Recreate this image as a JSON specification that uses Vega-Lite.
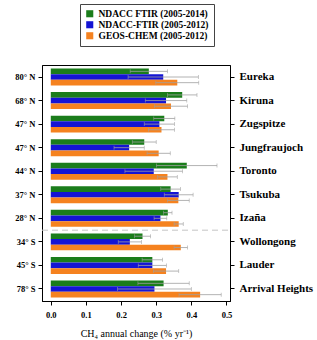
{
  "$schema": "https://vega.github.io/schema/vega-lite/v6.json",
  "width": 188,
  "height": 236,
  "autosize": "none",
  "padding": {"left": 42, "top": 65, "right": 87, "bottom": 39},
  "config": {
    "font": "Liberation Serif",
    "view": {"stroke": "#000000", "strokeWidth": 1},
    "axis": {
      "grid": false,
      "domainColor": "#000000",
      "tickColor": "#000000",
      "tickSize": 4,
      "labelColor": "#000000",
      "labelFont": "Liberation Serif",
      "labelFontWeight": "bold",
      "labelOverlap": false,
      "titleFont": "Liberation Serif",
      "titleColor": "#000000"
    },
    "tick": {"thickness": 0.8}
  },
  "datasets": {
    "trends": [
      {"site": "80° N|Eureka", "series": "NDACC FTIR (2005-2014)", "value": 0.279, "lo": 0.226, "hi": 0.332},
      {"site": "80° N|Eureka", "series": "NDACC-FTIR (2005-2012)", "value": 0.320, "lo": 0.220, "hi": 0.420},
      {"site": "80° N|Eureka", "series": "GEOS-CHEM (2005-2012)", "value": 0.360, "lo": 0.299, "hi": 0.421},
      {"site": "68° N|Kiruna", "series": "NDACC FTIR (2005-2014)", "value": 0.374, "lo": 0.332, "hi": 0.416},
      {"site": "68° N|Kiruna", "series": "NDACC-FTIR (2005-2012)", "value": 0.328, "lo": 0.269, "hi": 0.387},
      {"site": "68° N|Kiruna", "series": "GEOS-CHEM (2005-2012)", "value": 0.342, "lo": 0.295, "hi": 0.389},
      {"site": "47° N|Zugspitze", "series": "NDACC FTIR (2005-2014)", "value": 0.323, "lo": 0.293, "hi": 0.353},
      {"site": "47° N|Zugspitze", "series": "NDACC-FTIR (2005-2012)", "value": 0.309, "lo": 0.266, "hi": 0.352},
      {"site": "47° N|Zugspitze", "series": "GEOS-CHEM (2005-2012)", "value": 0.315, "lo": 0.278, "hi": 0.352},
      {"site": "47° N|Jungfraujoch", "series": "NDACC FTIR (2005-2014)", "value": 0.266, "lo": 0.232, "hi": 0.300},
      {"site": "47° N|Jungfraujoch", "series": "NDACC-FTIR (2005-2012)", "value": 0.223, "lo": 0.180, "hi": 0.266},
      {"site": "47° N|Jungfraujoch", "series": "GEOS-CHEM (2005-2012)", "value": 0.307, "lo": 0.274, "hi": 0.340},
      {"site": "44° N|Toronto", "series": "NDACC FTIR (2005-2014)", "value": 0.387, "lo": 0.301, "hi": 0.473},
      {"site": "44° N|Toronto", "series": "NDACC-FTIR (2005-2012)", "value": 0.293, "lo": 0.211, "hi": 0.375},
      {"site": "44° N|Toronto", "series": "GEOS-CHEM (2005-2012)", "value": 0.332, "lo": 0.304, "hi": 0.360},
      {"site": "37° N|Tsukuba", "series": "NDACC FTIR (2005-2014)", "value": 0.341, "lo": 0.313, "hi": 0.369},
      {"site": "37° N|Tsukuba", "series": "NDACC-FTIR (2005-2012)", "value": 0.364, "lo": 0.323, "hi": 0.405},
      {"site": "37° N|Tsukuba", "series": "GEOS-CHEM (2005-2012)", "value": 0.363, "lo": 0.332, "hi": 0.394},
      {"site": "28° N|Izaña", "series": "NDACC FTIR (2005-2014)", "value": 0.333, "lo": 0.321, "hi": 0.345},
      {"site": "28° N|Izaña", "series": "NDACC-FTIR (2005-2012)", "value": 0.312, "lo": 0.294, "hi": 0.330},
      {"site": "28° N|Izaña", "series": "GEOS-CHEM (2005-2012)", "value": 0.364, "lo": 0.351, "hi": 0.377},
      {"site": "34° S|Wollongong", "series": "NDACC FTIR (2005-2014)", "value": 0.261, "lo": 0.238, "hi": 0.284},
      {"site": "34° S|Wollongong", "series": "NDACC-FTIR (2005-2012)", "value": 0.225, "lo": 0.192, "hi": 0.258},
      {"site": "34° S|Wollongong", "series": "GEOS-CHEM (2005-2012)", "value": 0.370, "lo": 0.351, "hi": 0.389},
      {"site": "45° S|Lauder", "series": "NDACC FTIR (2005-2014)", "value": 0.289, "lo": 0.260, "hi": 0.318},
      {"site": "45° S|Lauder", "series": "NDACC-FTIR (2005-2012)", "value": 0.289, "lo": 0.249, "hi": 0.329},
      {"site": "45° S|Lauder", "series": "GEOS-CHEM (2005-2012)", "value": 0.328, "lo": 0.292, "hi": 0.364},
      {"site": "78° S|Arrival Heights", "series": "NDACC FTIR (2005-2014)", "value": 0.321, "lo": 0.248, "hi": 0.394},
      {"site": "78° S|Arrival Heights", "series": "NDACC-FTIR (2005-2012)", "value": 0.295, "lo": 0.190, "hi": 0.400},
      {"site": "78° S|Arrival Heights", "series": "GEOS-CHEM (2005-2012)", "value": 0.425, "lo": 0.365, "hi": 0.485}
    ],
    "divider": [{"site": "34° S|Wollongong"}]
  },
  "resolve": {"axis": {"y": "independent"}},
  "layer": [
    {
      "data": {"name": "divider"},
      "mark": {"type": "rule", "color": "#c4c4c4", "strokeWidth": 1, "strokeDash": [6, 4], "clip": true},
      "encoding": {
        "y": {"field": "site", "type": "nominal", "bandPosition": -0.19, "axis": null,
              "sort": ["80° N|Eureka", "68° N|Kiruna", "47° N|Zugspitze", "47° N|Jungfraujoch", "44° N|Toronto", "37° N|Tsukuba", "28° N|Izaña", "34° S|Wollongong", "45° S|Lauder", "78° S|Arrival Heights"]},
        "x": {"datum": -0.025, "type": "quantitative",
              "axis": {"values": [0, 0.1, 0.2, 0.3, 0.4, 0.5], "format": ".1f", "labelFontSize": 8.5, "labelPadding": 5,
                       "title": "CH₄ annual change (% yr⁻¹)", "titleFontSize": 10, "titleFontWeight": "normal", "titlePadding": 10}},
        "x2": {"datum": 0.51}
      }
    },
    {
      "data": {"name": "trends"},
      "mark": {"type": "bar"},
      "encoding": {
        "y": {
          "field": "site", "type": "nominal",
          "sort": ["80° N|Eureka", "68° N|Kiruna", "47° N|Zugspitze", "47° N|Jungfraujoch", "44° N|Toronto", "37° N|Tsukuba", "28° N|Izaña", "34° S|Wollongong", "45° S|Lauder", "78° S|Arrival Heights"],
          "scale": {"paddingInner": 0.28, "paddingOuter": 0.15},
          "axis": {"orient": "left", "title": null, "labelExpr": "split(datum.value, '|')[0]", "labelFontSize": 8.5, "labelPadding": 3}
        },
        "yOffset": {"field": "series", "type": "nominal", "sort": ["NDACC FTIR (2005-2014)", "NDACC-FTIR (2005-2012)", "GEOS-CHEM (2005-2012)"], "scale": {"paddingInner": 0, "paddingOuter": 0}},
        "x": {
          "field": "value", "type": "quantitative",
          "scale": {"domain": [-0.025, 0.51], "nice": false, "zero": false},
          "axis": {"values": [0, 0.1, 0.2, 0.3, 0.4, 0.5], "format": ".1f", "labelFontSize": 8.5, "labelPadding": 5,
                   "title": "CH₄ annual change (% yr⁻¹)", "titleFontSize": 10, "titleFontWeight": "normal", "titlePadding": 10}
        },
        "x2": {"datum": 0},
        "fill": {
          "field": "series", "type": "nominal",
          "sort": ["NDACC FTIR (2005-2014)", "NDACC-FTIR (2005-2012)", "GEOS-CHEM (2005-2012)"],
          "scale": {"domain": ["NDACC FTIR (2005-2014)", "NDACC-FTIR (2005-2012)", "GEOS-CHEM (2005-2012)"], "range": ["#1b7d1b", "#1414d4", "#f5821f"]},
          "legend": {
            "orient": "none", "legendX": 38, "legendY": -61, "title": null,
            "strokeColor": "#444444", "fillColor": "#ffffff", "padding": 5,
            "symbolType": "square", "symbolSize": 50, "symbolStrokeWidth": 0,
            "labelFont": "Liberation Serif", "labelFontWeight": "bold", "labelFontSize": 9.5, "labelColor": "#000000",
            "rowPadding": 0
          }
        }
      }
    },
    {
      "data": {"name": "trends"},
      "mark": {"type": "rule", "color": "#a0a0a0", "strokeWidth": 0.8},
      "encoding": {
        "y": {
          "field": "site", "type": "nominal",
          "sort": ["80° N|Eureka", "68° N|Kiruna", "47° N|Zugspitze", "47° N|Jungfraujoch", "44° N|Toronto", "37° N|Tsukuba", "28° N|Izaña", "34° S|Wollongong", "45° S|Lauder", "78° S|Arrival Heights"],
          "axis": {"orient": "right", "title": null, "labelExpr": "split(datum.value, '|')[1]", "labelFontSize": 11, "labelPadding": 5}
        },
        "yOffset": {"field": "series", "type": "nominal", "sort": ["NDACC FTIR (2005-2014)", "NDACC-FTIR (2005-2012)", "GEOS-CHEM (2005-2012)"]},
        "x": {"field": "lo", "type": "quantitative",
              "axis": {"values": [0, 0.1, 0.2, 0.3, 0.4, 0.5], "format": ".1f", "labelFontSize": 8.5, "labelPadding": 5,
                       "title": "CH₄ annual change (% yr⁻¹)", "titleFontSize": 10, "titleFontWeight": "normal", "titlePadding": 10}},
        "x2": {"field": "hi"}
      }
    },
    {
      "data": {"name": "trends"},
      "mark": {"type": "tick", "color": "#a0a0a0", "size": 4},
      "encoding": {
        "y": {"field": "site", "type": "nominal", "axis": null,
              "sort": ["80° N|Eureka", "68° N|Kiruna", "47° N|Zugspitze", "47° N|Jungfraujoch", "44° N|Toronto", "37° N|Tsukuba", "28° N|Izaña", "34° S|Wollongong", "45° S|Lauder", "78° S|Arrival Heights"]},
        "yOffset": {"field": "series", "type": "nominal", "sort": ["NDACC FTIR (2005-2014)", "NDACC-FTIR (2005-2012)", "GEOS-CHEM (2005-2012)"]},
        "x": {"field": "lo", "type": "quantitative",
              "axis": {"values": [0, 0.1, 0.2, 0.3, 0.4, 0.5], "format": ".1f", "labelFontSize": 8.5, "labelPadding": 5,
                       "title": "CH₄ annual change (% yr⁻¹)", "titleFontSize": 10, "titleFontWeight": "normal", "titlePadding": 10}}
      }
    },
    {
      "data": {"name": "trends"},
      "mark": {"type": "tick", "color": "#a0a0a0", "size": 4},
      "encoding": {
        "y": {"field": "site", "type": "nominal", "axis": null,
              "sort": ["80° N|Eureka", "68° N|Kiruna", "47° N|Zugspitze", "47° N|Jungfraujoch", "44° N|Toronto", "37° N|Tsukuba", "28° N|Izaña", "34° S|Wollongong", "45° S|Lauder", "78° S|Arrival Heights"]},
        "yOffset": {"field": "series", "type": "nominal", "sort": ["NDACC FTIR (2005-2014)", "NDACC-FTIR (2005-2012)", "GEOS-CHEM (2005-2012)"]},
        "x": {"field": "hi", "type": "quantitative",
              "axis": {"values": [0, 0.1, 0.2, 0.3, 0.4, 0.5], "format": ".1f", "labelFontSize": 8.5, "labelPadding": 5,
                       "title": "CH₄ annual change (% yr⁻¹)", "titleFontSize": 10, "titleFontWeight": "normal", "titlePadding": 10}}
      }
    }
  ]
}
